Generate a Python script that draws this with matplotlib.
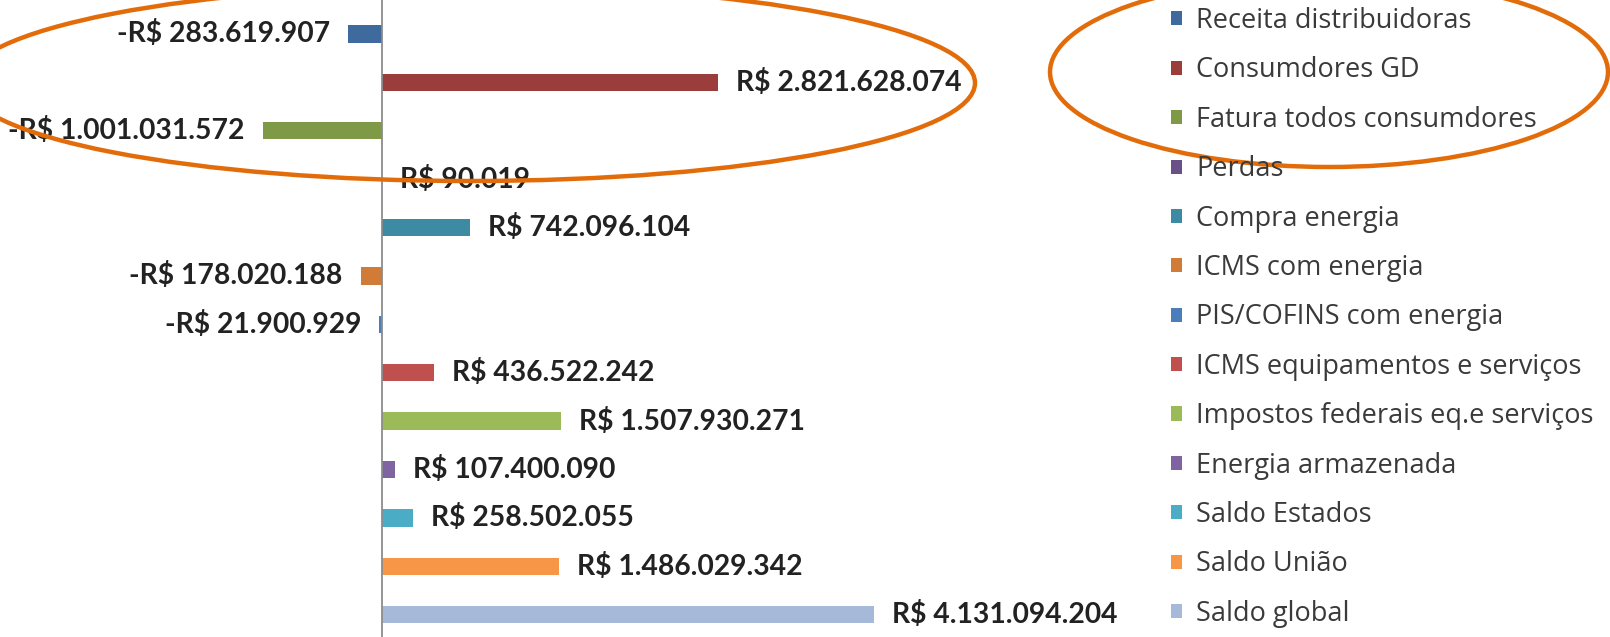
import matplotlib
matplotlib.use("Agg")
import matplotlib.pyplot as plt
from matplotlib.patches import Ellipse

# data
categorias = ["Receita distribuidoras", "Consumdores GD", "Fatura todos consumdores",
              "Perdas", "Compra energia", "ICMS com energia", "PIS/COFINS com energia",
              "ICMS equipamentos e serviços", "Impostos federais eq.e serviços",
              "Energia armazenada", "Saldo Estados", "Saldo União", "Saldo global"]
valores = [-283619907, 2821628074, -1001031572, 90019, 742096104, -178020188,
           -21900929, 436522242, 1507930271, 107400090, 258502055, 1486029342,
           4131094204]
cores = ["#3F6A9E", "#9B3D3B", "#7E9A47", "#6A5089", "#3C8BA2", "#D07B37", "#4A7EBB",
         "#C0504D", "#9BBB59", "#8064A2", "#4BACC6", "#F79646", "#A7B9D8"]


def fmt_reais(v):
    s = "{:,}".format(abs(v)).replace(",", ".")
    return ("-R$ " if v < 0 else "R$ ") + s


fig = plt.figure(figsize=(16.1, 6.37), dpi=100)
ax = fig.add_axes([0, 0, 1100 / 1610, 1])

pos = list(range(len(categorias)))
barras = ax.barh(pos, valores, height=0.36, color=cores)

# escala: zero em x=382px, ~119px por bilhao
ax.set_xlim(-382 / 119 * 1e9, (1100 - 382) / 119 * 1e9)
ax.set_ylim(12.46, -0.70)
ax.axvline(0, color="#8C8C8C", lw=1.3)

for p, v in zip(pos, valores):
    off = 13 if v >= 0 else -13
    ax.annotate(fmt_reais(v), xy=(v, p), xytext=(off, 0), textcoords="offset points",
                ha="left" if v >= 0 else "right", va="center",
                fontsize=20.3, fontweight="bold", family="Lato", color="#222222")

ax.axis("off")

leg = fig.legend(barras.patches, categorias, loc="upper left",
                 bbox_to_anchor=(1171 / 1610, 1 - 7 / 637), frameon=False,
                 prop={"family": "Open Sans", "size": 19.5}, labelcolor="#3A3A3A",
                 handlelength=0.42, handleheight=0.42, handletextpad=0.5,
                 labelspacing=0.79, borderaxespad=0, borderpad=0.0)

# destaques em laranja
fig.patches.append(Ellipse((470 / 1610, 1 - 83 / 637), 1010 / 1610, 196 / 637,
                           transform=fig.transFigure, fill=False,
                           edgecolor="#E36C0A", lw=3.2))
fig.patches.append(Ellipse((1329 / 1610, 1 - 72 / 637), 558 / 1610, 190 / 637,
                           transform=fig.transFigure, fill=False,
                           edgecolor="#E36C0A", lw=3.2))

fig.savefig("out.png", dpi=100)
